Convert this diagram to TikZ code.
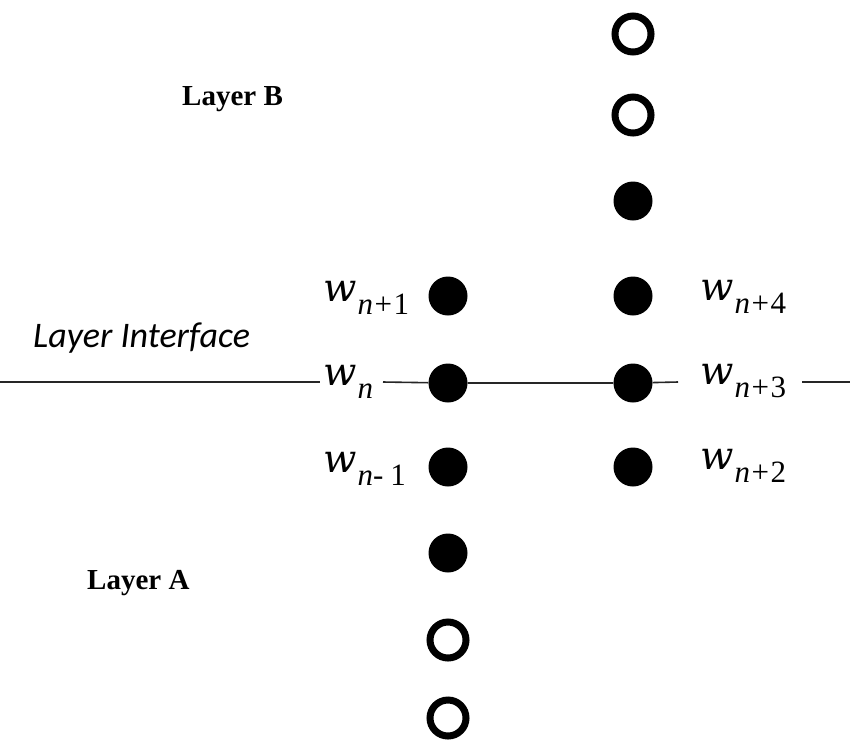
\documentclass[tikz,border=0pt]{standalone}
\usepackage{fontspec}
\setmainfont{Latin Modern Roman}
\newfontfamily\layerfont{Liberation Serif}
\newfontfamily\subfont{Liberation Serif}
\newfontfamily\wfont{DejaVu Serif}
\newfontfamily\ifacefont{Carlito}

% italic w with a large, lowered subscript
\newcommand{\wsub}[1]{{\wfont\itshape w}\hspace{1pt}\raisebox{-13pt}{\subfont\fontsize{31}{31}\selectfont#1}}
\newcommand{\pl}{\hspace{1.5pt}+\hspace{1.5pt}}

\tikzset{
  dotfull/.style={circle, fill=black, inner sep=0pt, minimum size=39pt},
  dotopen/.style={circle, draw=black, line width=7pt, inner sep=0pt, minimum size=36pt},
  wlabel/.style={anchor=base west, inner sep=0pt, font=\fontsize{39}{39}\selectfont},
  layerlabel/.style={anchor=base west, inner sep=0pt, font=\layerfont\bfseries\fontsize{29}{29}\selectfont},
  ifacelabel/.style={anchor=base west, inner sep=0pt, font=\ifacefont\itshape\fontsize{36}{36}\selectfont},
  ifaceline/.style={line width=1.6pt, draw=black!85},
}

\begin{document}
\begin{tikzpicture}[x=1pt, y=-1pt]
  \path[use as bounding box, fill=white] (0,0) rectangle (850,740);

  % left column of nodes
  \node[dotfull] (a1) at (448,296) {};
  \node[dotfull] (a0) at (448,383) {};
  \node[dotfull] (am1) at (448,467) {};
  \node[dotfull] (am2) at (448,553) {};
  \node[dotopen] (am3) at (448,640) {};
  \node[dotopen] (am4) at (448,718) {};

  % right column of nodes
  \node[dotopen] (b4) at (633,34) {};
  \node[dotopen] (b3) at (633,115) {};
  \node[dotfull] (b2) at (633,201) {};
  \node[dotfull] (b1) at (633,296) {};
  \node[dotfull] (b0) at (633,383) {};
  \node[dotfull] (bm1) at (633,467) {};

  % node labels
  \node[wlabel] (wn1) at (323,301) {\wsub{\textit{n}\pl1}};
  \node[wlabel] (wn)  at (323,385) {\wsub{\textit{n}}};
  \node[wlabel] (wnm) at (323,472) {\wsub{\textit{n}-\hspace{7pt}1}};
  \node[wlabel] (wn4) at (700,300) {\wsub{\textit{n}\pl4}};
  \node[wlabel] (wn3) at (700,384) {\wsub{\textit{n}\pl3}};
  \node[wlabel] (wn2) at (700,469) {\wsub{\textit{n}\pl2}};

  % layer names
  \node[layerlabel] (layB) at (182,105) {Layer B};
  \node[layerlabel] (layA) at (87,589) {Layer A};
  \node[ifacelabel] (iface) at (33,347) {Layer Interface};

  % interface line, broken around the labels
  \coordinate (lineW) at (0,382);
  \coordinate (g1) at (320,382);
  \coordinate (g2) at (383,382);
  \coordinate (g3) at (678,382);
  \coordinate (g4) at (802,382);
  \coordinate (lineE) at (850,382);
  \draw[ifaceline] (lineW) -- (g1);
  \draw[ifaceline] (g2) -- (a0) -- (b0) -- (g3);
  \draw[ifaceline] (g4) -- (lineE);
\end{tikzpicture}
\end{document}
